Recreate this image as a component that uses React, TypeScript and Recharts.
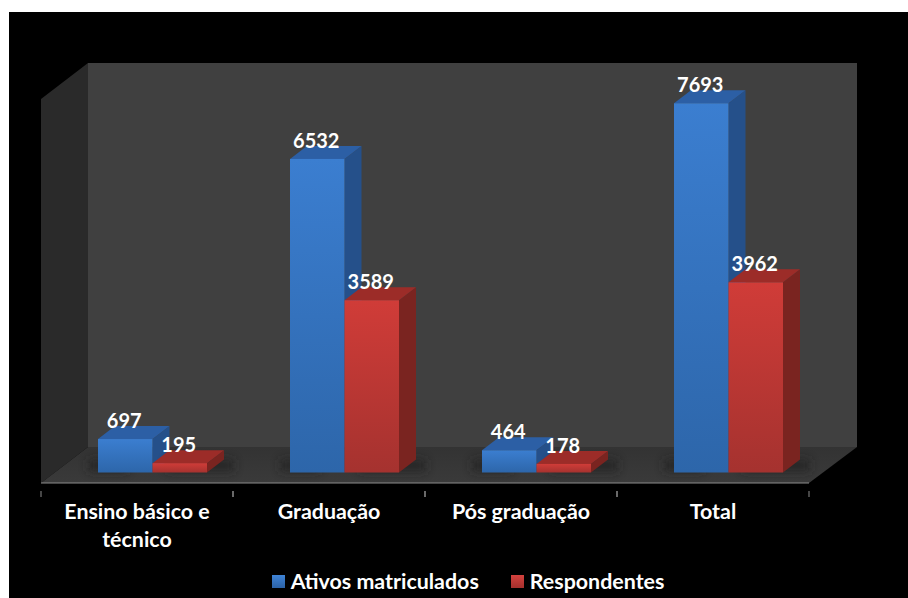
import { Bar, BarChart, LabelList, Legend, XAxis, YAxis, usePlotArea } from 'recharts';

const categories = ['Ensino básico e técnico', 'Graduação', 'Pós graduação', 'Total'];
const ativos = [697, 6532, 464, 7693];
const respondentes = [195, 3589, 178, 3962];
const yDomain = [0, 8000];

const tickLines: Record<string, string[]> = {
  'Ensino básico e técnico': ['Ensino básico e', 'técnico'],
};

const data = categories.map((name, i) => ({ name, ativos: ativos[i], respondentes: respondentes[i] }));

const FONT = 'Lato, sans-serif';
// 3D look: wall depth and how far the bars sit in from the front of the floor
const WALL_DX = 47;
const WALL_DY = 36;
const BAR_DX = 17;
const BAR_DY = 13;
const INSET_X = 15;
const INSET_Y = 10.5;
const BAND = 192;

function Walls() {
  const plot = usePlotArea();
  if (!plot) return null;
  const l = plot.x;
  const r = plot.x + plot.width;
  const t = plot.y;
  const b = plot.y + plot.height;
  return (
    <g>
      <defs>
        <linearGradient id="blueFront" x1="0" y1="0" x2="0" y2="1">
          <stop offset="0%" stopColor="#3b7ed0" />
          <stop offset="100%" stopColor="#2d66aa" />
        </linearGradient>
        <linearGradient id="redFront" x1="0" y1="0" x2="0" y2="1">
          <stop offset="0%" stopColor="#d03c38" />
          <stop offset="100%" stopColor="#a5322f" />
        </linearGradient>
        <linearGradient id="floorFill" x1="0" y1="0" x2="0" y2="1">
          <stop offset="0%" stopColor="#333333" />
          <stop offset="100%" stopColor="#3a3a3a" />
        </linearGradient>
        <filter id="barShadow" x="-50%" y="-150%" width="200%" height="400%">
          <feGaussianBlur stdDeviation="5" />
        </filter>
      </defs>
      <polygon
        points={`${l + WALL_DX},${t - WALL_DY} ${r + WALL_DX + 1},${t - WALL_DY} ${r + WALL_DX + 1},${b - WALL_DY} ${l + WALL_DX},${b - WALL_DY}`}
        fill="#404040"
      />
      <polygon
        points={`${l},${t} ${l + WALL_DX},${t - WALL_DY} ${l + WALL_DX},${b - WALL_DY} ${l},${b}`}
        fill="#2a2a2a"
      />
      <polygon
        points={`${l},${b} ${l + WALL_DX},${b - WALL_DY} ${r + WALL_DX + 1},${b - WALL_DY} ${r},${b}`}
        fill="url(#floorFill)"
      />
    </g>
  );
}

function Box3D(props: any) {
  const { x, y, width, height, front, top, side, shadowLeft } = props;
  const fx = x + INSET_X;
  const fy = y - INSET_Y;
  const base = fy + height;
  const fr = fx + width;
  const shadowFrom = shadowLeft ? fx - 10 : fx + 14;
  const shadowTo = shadowLeft ? fx + 30 : fr + BAR_DX + 10;
  return (
    <g>
      <polygon
        points={`${shadowFrom},${base - 1} ${shadowTo},${base - 1} ${shadowTo},${base - BAR_DY} ${shadowFrom},${base - BAR_DY}`}
        fill="#242424"
        opacity={0.75}
        filter="url(#barShadow)"
      />
      <polygon points={`${fr},${fy} ${fr + BAR_DX},${fy - BAR_DY} ${fr + BAR_DX},${base - BAR_DY} ${fr},${base}`} fill={side} />
      <polygon points={`${fx},${fy} ${fx + BAR_DX},${fy - BAR_DY} ${fr + BAR_DX},${fy - BAR_DY} ${fr},${fy}`} fill={top} />
      <rect x={fx} y={fy} width={width} height={height} fill={front} />
    </g>
  );
}

function barLabel(props: any) {
  const { x, y, width, value } = props;
  return (
    <text
      x={x + width / 2 + INSET_X - 1}
      y={y - INSET_Y - 11}
      textAnchor="middle"
      fill="#ffffff"
      fontFamily={FONT}
      fontWeight={700}
      fontSize={20}
    >
      {value}
    </text>
  );
}

function CategoryTick(props: any) {
  const { x, y, payload } = props;
  const lines = tickLines[payload.value] ?? [payload.value];
  return (
    <g>
      <line x1={x - BAND / 2} x2={x - BAND / 2} y1={y} y2={y + 6} stroke="#8c8c8c" />
      <line x1={x + BAND / 2} x2={x + BAND / 2} y1={y} y2={y + 6} stroke="#8c8c8c" />
      {lines.map((line, i) => (
        <text
          key={line}
          x={x}
          y={y + 28 + i * 28}
          textAnchor="middle"
          fill="#ffffff"
          fontFamily={FONT}
          fontWeight={700}
          fontSize={21.4}
        >
          {line}
        </text>
      ))}
    </g>
  );
}

const swatchFill: Record<string, string> = {
  'Ativos matriculados': 'linear-gradient(#3f83d6, #2b62a6)',
  Respondentes: 'linear-gradient(#d4423e, #a5302d)',
};

function LegendRow({ payload }: any) {
  return (
    <div style={{ height: 24, display: 'flex', justifyContent: 'center', alignItems: 'center', gap: 32, paddingLeft: 28 }}>
      {(payload ?? []).map((entry: any) => (
        <div key={entry.value} style={{ display: 'flex', alignItems: 'center', gap: 6 }}>
          <span style={{ width: 13, height: 13, background: swatchFill[entry.value], display: 'inline-block' }} />
          <span style={{ color: '#fff', fontFamily: FONT, fontWeight: 700, fontSize: 21.4, lineHeight: '24px' }}>{entry.value}</span>
        </div>
      ))}
    </div>
  );
}

export default function App() {
  return (
    <div style={{ position: 'absolute', left: 0, top: 0, width: 908, height: 598, background: '#fff', overflow: 'hidden' }}>
      <div style={{ position: 'absolute', left: 9, top: 12, width: 899, height: 586, background: '#000' }} />
      <div style={{ position: 'absolute', left: 0, top: 0 }}>
        <BarChart
          width={908}
          height={598}
          data={data}
          margin={{ top: 99, right: 99, bottom: 31, left: 41 }}
          barSize={54.5}
          barGap={0}
        >
          <Walls />
          <XAxis
            dataKey="name"
            height={60}
            interval={0}
            axisLine={{ stroke: '#8c8c8c' }}
            tickLine={false}
            tick={<CategoryTick />}
          />
          <YAxis hide domain={yDomain} />
          <Legend
            content={<LegendRow />}
            verticalAlign="bottom"
            wrapperStyle={{ left: 0, bottom: 5, width: 908 }}
          />
          <Bar
            dataKey="ativos"
            name="Ativos matriculados"
            fill="#3b7ed0"
            isAnimationActive={false}
            shape={(p: any) => <Box3D {...p} front="url(#blueFront)" top="#2c5fa5" side="#25508a" shadowLeft />}
          >
            <LabelList dataKey="ativos" content={barLabel} />
          </Bar>
          <Bar
            dataKey="respondentes"
            name="Respondentes"
            fill="#d03c38"
            isAnimationActive={false}
            shape={(p: any) => <Box3D {...p} front="url(#redFront)" top="#9c2c28" side="#7a2420" />}
          >
            <LabelList dataKey="respondentes" content={barLabel} />
          </Bar>
        </BarChart>
      </div>
    </div>
  );
}
